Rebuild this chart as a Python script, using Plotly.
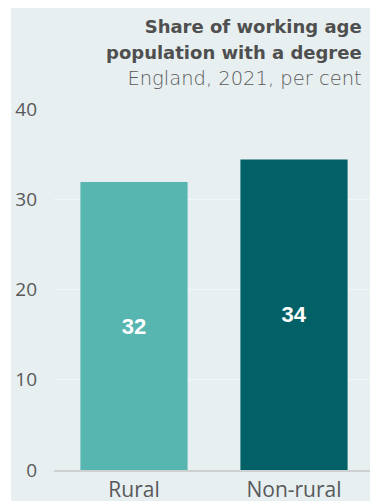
import plotly.graph_objects as go

categories = ["Rural", "Non-rural"]
values = [31.9, 34.4]
labels = ["32", "34"]
colors = ["#58b6b1", "#026166"]

W, H = 370, 501
L, R, T, B = 54, 0, 109, 31
pw, ph = W - L - R, H - T - B
FONT = "Open Sans"

def px_x(x):
    return (x - L) / pw

def px_y(y):
    return (H - B - y) / ph

fig = go.Figure()
fig.add_trace(go.Bar(
    x=categories, y=values, marker_color=colors, marker_line_width=0,
    text=labels, textposition="inside", insidetextanchor="middle",
    textfont=dict(color="white", size=22, family="Liberation Sans"),
    texttemplate="<b>%{text}</b>", hoverinfo="skip", width=0.67,
))

fig.add_shape(type="rect", xref="paper", yref="paper",
              x0=px_x(11), x1=px_x(372), y0=px_y(8), y1=px_y(505),
              fillcolor="#e7eff1", line_width=0, layer="below")

title = ("<span style='font-size:18px'><b>Share of working age</b></span><br>"
         "<span style='font-size:18px'><b>population with a degree</b></span><br>"
         "<span style='font-size:19.5px;font-weight:300;color:#5a5a5a'>England, 2021, per cent</span>")
fig.add_annotation(xref="paper", yref="paper", x=px_x(364), y=px_y(14),
                   xanchor="right", yanchor="top", showarrow=False, align="right",
                   text=title,
                   font=dict(family="DejaVu Sans", size=20, color="#4f4f4f"))

fig.update_layout(
    width=W, height=H, margin=dict(l=L, r=R, t=T, b=B, autoexpand=False),
    paper_bgcolor="white", plot_bgcolor="rgba(0,0,0,0)",
    showlegend=False, bargap=0.33,
    font=dict(family=FONT, color="#595959"),
)
fig.update_xaxes(range=[-0.5, -0.5 + pw / 160], showgrid=False, showline=True,
                 linecolor="#cdd1d2", linewidth=1.5, ticks="", tickfont=dict(size=21),
                 ticklabelstandoff=0, automargin=False)
fig.update_yaxes(range=[0, 40], tickvals=[0, 10, 20, 30, 40], showgrid=True,
                 gridcolor="#f2f6f7", gridwidth=1.2, zeroline=False, ticks="",
                 tickfont=dict(size=19), ticklabelstandoff=16, automargin=False)

fig.write_html("out.html")
